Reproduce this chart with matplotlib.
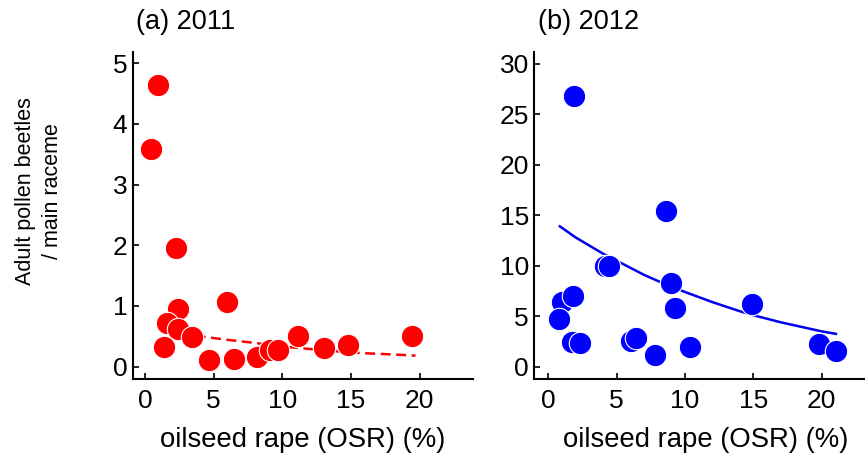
import numpy as np
import matplotlib
matplotlib.use("Agg")
import matplotlib.pyplot as plt

plt.rcParams['font.family'] = ['Liberation Sans', 'DejaVu Sans']

# (a) 2011: OSR share (%) vs adult pollen beetles per main raceme
osr_2011 = [0.44, 0.97, 2.25, 2.37, 1.58, 2.37, 1.41, 3.39, 4.63, 5.99,
            6.47, 8.12, 9.09, 9.72, 11.13, 13.07, 14.81, 19.44]
beetles_2011 = [3.58, 4.64, 1.96, 0.945, 0.725, 0.615, 0.32, 0.48, 0.11, 1.06,
                0.127, 0.15, 0.27, 0.27, 0.51, 0.30, 0.35, 0.505]
# fitted curve
fit_x_2011 = [1.45, 3, 4, 6, 8, 10, 12, 14, 16, 18, 19.7]
fit_y_2011 = [0.58, 0.53, 0.50, 0.44, 0.39, 0.33, 0.29, 0.25, 0.22, 0.20, 0.18]

# (b) 2012
osr_2012 = [1.90, 8.61, 4.17, 4.48, 8.97, 0.98, 1.83, 0.80, 9.28, 14.88,
            1.73, 2.29, 6.05, 6.42, 7.80, 10.37, 19.83, 21.05]
beetles_2012 = [26.8, 15.4, 9.96, 9.96, 8.25, 6.43, 7.02, 4.75, 5.84, 6.23,
                2.4, 2.35, 2.58, 2.81, 1.12, 1.98, 2.24, 1.58]
fit_x_2012 = [0.85, 2, 3, 4, 5, 6, 7, 8, 9, 10, 11, 12, 13, 14, 15, 16, 17,
              18, 19, 20, 21.05]
fit_y_2012 = [13.9, 12.8, 12.0, 11.2, 10.5, 9.8, 9.1, 8.5, 7.95, 7.4, 6.9,
              6.4, 5.95, 5.5, 5.1, 4.75, 4.4, 4.1, 3.8, 3.5, 3.25]

xticks = [0, 5, 10, 15, 20]

fig = plt.figure(figsize=(8.65, 4.57), dpi=100)
ax1 = fig.add_axes([0.1534, 0.170, 0.3936, 0.717])
ax2 = fig.add_axes([0.6177, 0.170, 0.3953, 0.717])


def style(ax):
    for s in ['top', 'right']:
        ax.spines[s].set_visible(False)
    for s in ['left', 'bottom']:
        ax.spines[s].set_linewidth(1.5)
    ax.tick_params(direction='in', length=4, width=1.2, labelsize=19)
    ax.tick_params(axis='x', pad=7)
    ax.tick_params(axis='y', pad=4)
    ax.set_xticks(xticks)
    ax.set_xlabel('oilseed rape (OSR) (%)', fontsize=19.8, labelpad=10)


ax1.scatter(osr_2011, beetles_2011, s=260, color='#ff0000',
            edgecolors='white', linewidths=0.8, zorder=3)
ax1.plot(fit_x_2011, fit_y_2011, color='#ff0000', lw=1.8,
         dashes=(4, 2.2), zorder=2)
ax1.set_xlim(-0.9, 23.9)
ax1.set_ylim(-0.21, 5.19)
ax1.set_yticks([0, 1, 2, 3, 4, 5])
style(ax1)
ax1.set_ylabel('Adult pollen beetles\n/ main raceme', fontsize=15.5,
               linespacing=1.4, va='center', ha='center')
ax1.yaxis.set_label_coords(-0.275, 0.575)

ax2.scatter(osr_2012, beetles_2012, s=260, color='#0000ff',
            edgecolors='white', linewidths=0.8, zorder=3)
ax2.plot(fit_x_2012, fit_y_2012, color='#0000ee', lw=1.8, zorder=2)
ax2.set_xlim(-1.02, 24)
ax2.set_ylim(-1.25, 31.2)
ax2.set_yticks([0, 5, 10, 15, 20, 25, 30])
style(ax2)

fig.text(136 / 865, 1 - 22 / 457, '(a) 2011', fontsize=19.5, va='center')
fig.text(538 / 865, 1 - 22 / 457, '(b) 2012', fontsize=19.5, va='center')

fig.savefig('out.png', dpi=100)
